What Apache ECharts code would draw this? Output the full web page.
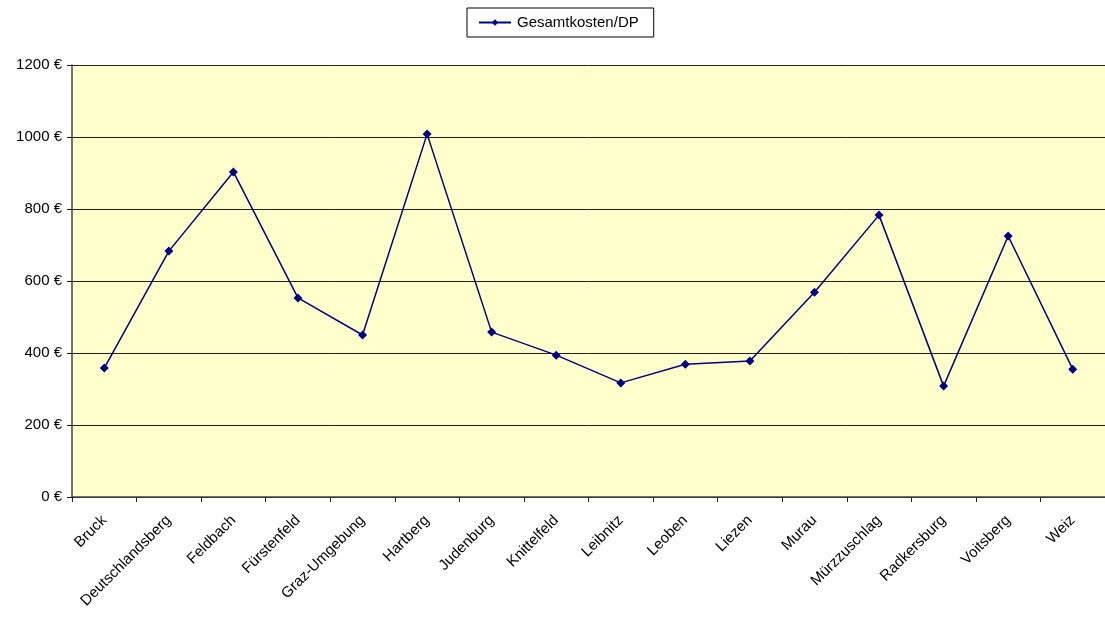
<!DOCTYPE html>
<html>
<head>
<meta charset="utf-8">
<script src="https://cdn.jsdelivr.net/npm/echarts@6/dist/echarts.min.js"></script>
<style>
  html, body { margin: 0; padding: 0; background: #fff; }
  #chart { width: 1105px; height: 617px; }
</style>
</head>
<body>
<div id="chart"></div>
<script>
// Districts on the category axis
const districts = ['Bruck', 'Deutschlandsberg', 'Feldbach', 'Fürstenfeld', 'Graz-Umgebung',
  'Hartberg', 'Judenburg', 'Knittelfeld', 'Leibnitz', 'Leoben', 'Liezen', 'Murau',
  'Mürzzuschlag', 'Radkersburg', 'Voitsberg', 'Weiz'];

// Total cost per DP (EUR)
const gesamtkostenDP = [358, 683, 903, 553, 450, 1008, 458, 394, 317, 369, 378, 569, 783, 308, 725, 355];

const seriesName = 'Gesamtkosten/DP';
const yMin = 0, yMax = 1200, yStep = 200;

const chart = echarts.init(document.getElementById('chart'), null, { renderer: 'canvas' });
const font = 'Liberation Sans, Arial, sans-serif';

chart.setOption({
  animation: false,
  textStyle: { fontFamily: font },
  legend: {
    top: 8,
    left: 467,
    data: [seriesName],
    borderColor: '#000',
    borderWidth: 1,
    padding: [7, 15, 7, 11],
    itemWidth: 32,
    itemHeight: 8,
    itemGap: 6,
    textStyle: { fontFamily: font, fontSize: 15, color: '#000', padding: [0, 0, 0, 1] }
  },
  grid: {
    left: 72,
    top: 65,
    width: 1035,
    height: 432,
    show: true,
    backgroundColor: '#FFFFCC',
    borderWidth: 0
  },
  xAxis: {
    type: 'category',
    data: districts,
    boundaryGap: true,
    axisLine: { lineStyle: { color: '#444', width: 1.5 } },
    axisTick: { show: true, length: 5, lineStyle: { color: '#222' } },
    axisLabel: { rotate: 45, fontSize: 15, color: '#000', fontFamily: font, margin: 21, interval: 0 }
  },
  yAxis: {
    type: 'value',
    min: yMin,
    max: yMax,
    interval: yStep,
    axisLine: { show: true, lineStyle: { color: '#444', width: 1.5 } },
    axisTick: { show: true, length: 5, lineStyle: { color: '#222' } },
    axisLabel: {
      formatter: v => v + ' €',
      fontSize: 15, color: '#000', fontFamily: font, margin: 10
    },
    splitLine: { show: true, lineStyle: { color: '#222', width: 1 } }
  },
  series: [{
    name: seriesName,
    type: 'line',
    data: gesamtkostenDP,
    symbol: 'diamond',
    symbolSize: 9,
    showAllSymbol: true,
    lineStyle: { color: '#000080', width: 1.5 },
    itemStyle: { color: '#000080' }
  }]
});
</script>
</body>
</html>
